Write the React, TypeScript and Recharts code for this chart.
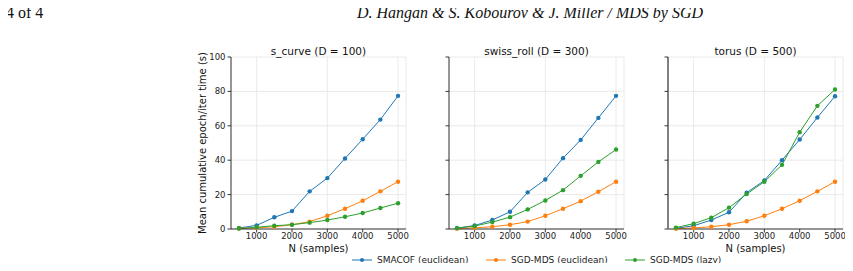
import { CartesianGrid, Line, LineChart, XAxis, YAxis } from "recharts";

const samples = [500, 1000, 1500, 2000, 2500, 3000, 3500, 4000, 4500, 5000];
const xTicks = [1000, 2000, 3000, 4000, 5000];
const yTicks = [0, 20, 40, 60, 80, 100];

const titles = ["s_curve (D = 100)", "swiss_roll (D = 300)", "torus (D = 500)"];
const seriesNames = ["SMACOF (euclidean)", "SGD-MDS (euclidean)", "SGD-MDS (lazy)"];

// s_curve
const smacofS = [0.6, 2.1, 6.8, 10.4, 21.9, 29.6, 41.0, 52.2, 63.6, 77.4];
const sgdEucS = [0.3, 0.7, 1.3, 2.5, 4.3, 7.7, 11.8, 16.4, 21.9, 27.5];
const sgdLazyS = [0.3, 1.0, 1.9, 2.5, 3.7, 5.2, 7.1, 9.3, 12.2, 15.0];

// swiss_roll
const smacofR = [0.5, 2.0, 5.2, 10.0, 21.3, 28.8, 41.2, 51.8, 64.6, 77.4];
const sgdEucR = [0.2, 0.7, 1.3, 2.5, 4.3, 7.7, 11.8, 16.2, 21.7, 27.5];
const sgdLazyR = [0.5, 1.7, 4.0, 6.9, 11.4, 16.6, 22.6, 30.9, 39.0, 46.2];

// torus
const smacofT = [0.4, 1.9, 5.2, 9.7, 21.1, 28.2, 40.0, 52.0, 64.8, 77.2];
const sgdEucT = [0.2, 0.6, 1.3, 2.5, 4.5, 7.7, 11.8, 16.4, 21.9, 27.5];
const sgdLazyT = [0.8, 3.1, 6.6, 12.4, 20.3, 27.5, 37.3, 56.3, 71.6, 81.1];

const colors = ["#1f77b4", "#ff7f0e", "#2ca02c"];
const FONT = "'DejaVu Sans', sans-serif";

const build = (a: number[], b: number[], c: number[]) =>
  samples.map((n, i) => ({ n, smacof: a[i], euc: b[i], lazy: c[i] }));

const panels = [
  build(smacofS, sgdEucS, sgdLazyS),
  build(smacofR, sgdEucR, sgdLazyR),
  build(smacofT, sgdEucT, sgdLazyT),
];

const plotLefts = [231, 449, 668];
const plotW = 175;
const plotH = 172;
const yAxisW = 35;

function Panel({ idx }: { idx: number }) {
  const data = panels[idx];
  const spine = idx === 2 ? { stroke: "#808080", strokeWidth: 2 } : { stroke: "#222", strokeWidth: 0.9 };
  return (
    <div style={{ position: "absolute", left: plotLefts[idx] - yAxisW, top: 40 }}>
      <LineChart
        width={yAxisW + plotW + 12}
        height={17 + plotH + 25}
        data={data}
        margin={{ top: 17, right: 12, left: 0, bottom: 0 }}
      >
        <CartesianGrid stroke="#e4e4e4" strokeWidth={0.8} />
        <XAxis
          dataKey="n"
          type="number"
          domain={[275, 5225]}
          ticks={xTicks}
          allowDataOverflow
          height={25}
          tickSize={3.5}
          tickMargin={0.5}
          axisLine={{ stroke: "#222", strokeWidth: 0.9 }}
          tickLine={{ stroke: "#222", strokeWidth: 0.9 }}
          tick={{ fontSize: 8.5, fill: "#222", fontFamily: FONT }}
        />
        <YAxis
          type="number"
          domain={[0, 100]}
          ticks={yTicks}
          width={yAxisW}
          tickSize={3.5}
          tickMargin={2}
          axisLine={spine}
          tickLine={{ stroke: "#222", strokeWidth: 0.9 }}
          tick={{ fontSize: 8.5, fill: "#222", fontFamily: FONT }}
          tickFormatter={(v: number) => (idx === 0 ? String(v) : "")}
        />
        {(["smacof", "euc", "lazy"] as const).map((k, i) => (
          <Line
            key={k}
            dataKey={k}
            type="linear"
            stroke={colors[i]}
            strokeWidth={1}
            dot={{ r: 2.2, fill: colors[i], stroke: colors[i], strokeWidth: 0 }}
            activeDot={false}
            isAnimationActive={false}
          />
        ))}
      </LineChart>
    </div>
  );
}

export default function App() {
  const legendX = [352, 486, 625];
  return (
    <div style={{ position: "relative", width: 853, height: 271, margin: -8, background: "#fff" }}>
      {[0, 1, 2].map((i) => (
        <Panel key={i} idx={i} />
      ))}
      <svg width={853} height={271} style={{ position: "absolute", left: 0, top: 0, pointerEvents: "none" }}>
        <text x={6} y={18.3} fontFamily="'Liberation Serif', serif" fontSize={16} fill="#111">
          4 of 4
        </text>
        <text x={357} y={18.3} fontFamily="'Liberation Serif', serif" fontStyle="italic" fontSize={16} fill="#111">
          D. Hangan &amp; S. Kobourov &amp; J. Miller / MDS by SGD
        </text>
        {titles.map((t, i) => (
          <text key={t} x={plotLefts[i] + plotW / 2} y={54.5} textAnchor="middle" fontFamily={FONT} fontSize={10.5} fill="#111">
            {t}
          </text>
        ))}
        {[0, 2].map((i) => (
          <text key={i} x={plotLefts[i] + plotW / 2} y={251.5} textAnchor="middle" fontFamily={FONT} fontSize={10} fill="#111">
            N (samples)
          </text>
        ))}
        <text
          x={205.5}
          y={143}
          textAnchor="middle"
          fontFamily={FONT}
          fontSize={10}
          fill="#111"
          transform="rotate(-90, 205.5, 143)"
        >
          Mean cumulative epoch/iter time (s)
        </text>
        {seriesNames.map((name, i) => (
          <g key={name}>
            <line x1={legendX[i]} x2={legendX[i] + 20} y1={260} y2={260} stroke={colors[i]} strokeWidth={1} />
            <circle cx={legendX[i] + 10} cy={260} r={2} fill={colors[i]} />
            <text x={legendX[i] + 25} y={263.3} fontFamily={FONT} fontSize={9} fill="#222">
              {name}
            </text>
          </g>
        ))}
      </svg>
    </div>
  );
}
